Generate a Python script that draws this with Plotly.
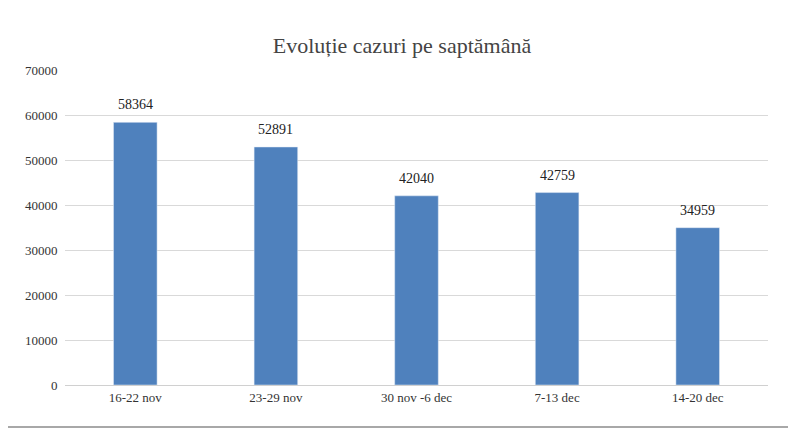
import plotly.graph_objects as go

weeks = ["16-22 nov", "23-29 nov", "30 nov -6 dec", "7-13 dec", "14-20 dec"]
cases = [58364, 52891, 42040, 42759, 34959]

# page body adds an 8px offset, so draw the figure 8px smaller
off = 8
W, H = 796 - off, 431 - off
ml, mr, mt, mb = 65 - off, 28, 70 - off, 46

fig = go.Figure(go.Bar(x=weeks, y=cases, marker_color="#4F81BD"))

for wk, c in zip(weeks, cases):
    fig.add_annotation(x=wk, y=c, text=str(c), showarrow=False,
                       yanchor="bottom", yshift=8,
                       font=dict(size=14, color="#222"))

pw, ph = W - ml - mr, H - mt - mb
fig.add_shape(type="rect", xref="paper", yref="paper",
              x0=(4 - off - ml) / pw, x1=(W - 5 - ml) / pw,
              y0=-(H - 4 - mt - ph) / ph, y1=(mt - (4 - off)) / ph + 1,
              line=dict(color="#8c8c8c", width=1.5))

fig.update_layout(
    width=W, height=H, margin=dict(l=ml, r=mr, t=mt, b=mb),
    paper_bgcolor="white", plot_bgcolor="white",
    font=dict(family="Liberation Serif, DejaVu Serif, serif", size=13, color="#333"),
    title=dict(text="Evoluție cazuri pe saptămână", x=0.5, y=0.93,
               font=dict(size=22, color="#444")),
    bargap=0.69, showlegend=False,
    xaxis=dict(showline=True, linecolor="#d0d0d0", ticks=""),
    yaxis=dict(range=[0, 70000], dtick=10000, tickformat="d", gridcolor="#d9d9d9",
               zeroline=False, tickfont=dict(size=13), ticksuffix="  "),
)

fig.write_html("out.html")
